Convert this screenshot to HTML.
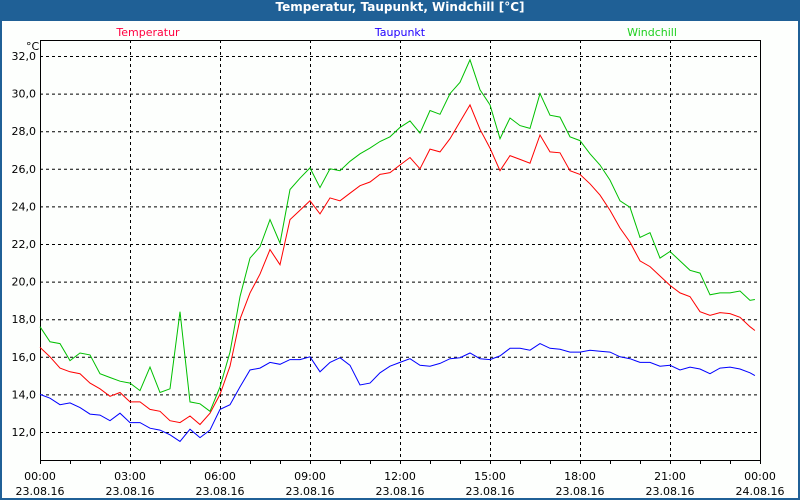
<!DOCTYPE html>
<html><head><meta charset="utf-8"><style>
html,body{margin:0;padding:0;background:#fff}
#wrap{position:relative;width:800px;height:500px;background:#1f6096;overflow:hidden}
#title{position:absolute;left:0;top:0;width:800px;height:20px;line-height:20px;text-align:center;color:#fff;font:bold 12px "DejaVu Sans","Liberation Sans",sans-serif}
#panel{position:absolute;left:2px;top:21px;width:796px;height:477px;background:#fdfffd}
svg{position:absolute;left:0;top:0}
text{font-family:"DejaVu Sans","Liberation Sans",sans-serif;font-size:11px}
</style></head><body>
<div id="wrap">
<div id="title">Temperatur, Taupunkt, Windchill [°C]</div>
<div id="panel"></div>
<svg id="chart" width="800" height="500"></svg>
</div>
<script>
const temperatur=[16.5,16.0,15.4,15.2,15.1,14.6,14.3,13.9,14.1,13.6,13.6,13.2,13.1,12.6,12.5,12.85,12.4,13.0,14.0,15.5,18.0,19.4,20.4,21.7,20.9,23.3,23.8,24.3,23.6,24.45,24.3,24.7,25.1,25.3,25.7,25.8,26.2,26.6,26.0,27.05,26.9,27.6,28.5,29.4,28.1,27.1,25.9,26.7,26.5,26.3,27.8,26.9,26.85,25.9,25.7,25.2,24.6,23.8,22.85,22.1,21.1,20.8,20.3,19.8,19.4,19.2,18.4,18.2,18.35,18.3,18.1,17.6,17.4];
const windchill=[17.6,16.8,16.7,15.8,16.2,16.1,15.1,14.9,14.7,14.6,14.2,15.45,14.1,14.3,18.4,13.6,13.5,13.1,14.4,16.25,19.2,21.25,21.85,23.3,22.05,24.9,25.5,26.05,25.0,26.0,25.9,26.4,26.8,27.1,27.45,27.7,28.2,28.55,27.9,29.1,28.9,30.0,30.6,31.8,30.2,29.4,27.6,28.7,28.3,28.15,30.0,28.85,28.75,27.7,27.5,26.8,26.2,25.4,24.3,23.95,22.35,22.6,21.25,21.6,21.1,20.6,20.45,19.3,19.4,19.4,19.5,19.0,19.05];
const taupunkt=[14.0,13.8,13.45,13.55,13.3,12.95,12.9,12.6,13.0,12.5,12.5,12.2,12.1,11.85,11.5,12.15,11.7,12.1,13.2,13.45,14.4,15.3,15.4,15.7,15.6,15.85,15.85,16.0,15.2,15.7,15.95,15.55,14.5,14.6,15.15,15.5,15.7,15.9,15.55,15.5,15.65,15.9,15.95,16.2,15.9,15.85,16.05,16.45,16.45,16.35,16.7,16.45,16.4,16.25,16.25,16.35,16.3,16.25,16.0,15.9,15.7,15.7,15.5,15.55,15.3,15.45,15.35,15.1,15.4,15.45,15.35,15.15,15.0];
const yTicks=[12,14,16,18,20,22,24,26,28,30,32];
const xTickHours=[0,3,6,9,12,15,18,21,24];
const xTimeLabels=["00:00","03:00","06:00","09:00","12:00","15:00","18:00","21:00","00:00"];
const xDateLabels=["23.08.16","23.08.16","23.08.16","23.08.16","23.08.16","23.08.16","23.08.16","23.08.16","24.08.16"];

const L=40,R=760,T=40,B=460;
const X=h=>L+h*(R-L)/24;
const Y=v=>432-(v-12)*18.8;
const tOf=i=>i<72?i/3:23.83;
const svg=document.getElementById('chart');
const NS='http://www.w3.org/2000/svg';
function mk(tag,attrs,parent){const e=document.createElementNS(NS,tag);for(const k in attrs)e.setAttribute(k,attrs[k]);(parent||svg).appendChild(e);return e;}

// grid
yTicks.forEach(v=>{
  const g=mk('line',{x1:L,x2:R,y1:Y(v)+0.5,y2:Y(v)+0.5,stroke:'#000','stroke-dasharray':'3,3','stroke-width':1});
  
  
  const t=mk('text',{x:L-4,y:Y(v)+4,'text-anchor':'end',fill:'#000'});
  t.textContent=v.toFixed(1).replace('.',',');
  
  
});
xTickHours.forEach((h,i)=>{
  if(h>0&&h<24){
    const g=mk('line',{x1:X(h)+0.5,x2:X(h)+0.5,y1:T,y2:B,stroke:'#000','stroke-dasharray':'3,3','stroke-width':1});
    
    
  }
  const t1=mk('text',{x:X(h),y:480,'text-anchor':'middle',fill:'#000'});
  t1.textContent=xTimeLabels[i];
  
  
  const t2=mk('text',{x:X(h),y:495,'text-anchor':'middle',fill:'#000'});
  t2.textContent=xDateLabels[i];
  
  
});
for(let h=0;h<=24;h++){
  const tk=mk('line',{x1:X(h)+0.5,x2:X(h)+0.5,y1:B,y2:B+4,stroke:'#000'});
  
  
}
const frame=mk('rect',{x:L+0.5,y:T+0.5,width:R-L,height:B-T,fill:'none',stroke:'#000','stroke-width':1});



const unit=mk('text',{x:26,y:50,fill:'#000'});unit.textContent='°C';



function line(arr,color,name){
  const pts=arr.map((v,i)=>X(tOf(i)).toFixed(1)+','+Y(v).toFixed(1)).join(' ');
  const p=mk('polyline',{points:pts,fill:'none',stroke:color,'stroke-width':1});
  
  
}
line(taupunkt,'#0000ff','taupunkt-line');
line(temperatur,'#ff0000','temperatur-line');
line(windchill,'#00c000','windchill-line');

[['Temperatur','#ff0040',148,'legend-temperatur'],['Taupunkt','#2000ff',400,'legend-taupunkt'],['Windchill','#20d020',652,'legend-windchill']].forEach(a=>{
  const t=mk('text',{x:a[2],y:36,'text-anchor':'middle',fill:a[1]});
  t.textContent=a[0];
  
  
});
</script>
</body></html>
